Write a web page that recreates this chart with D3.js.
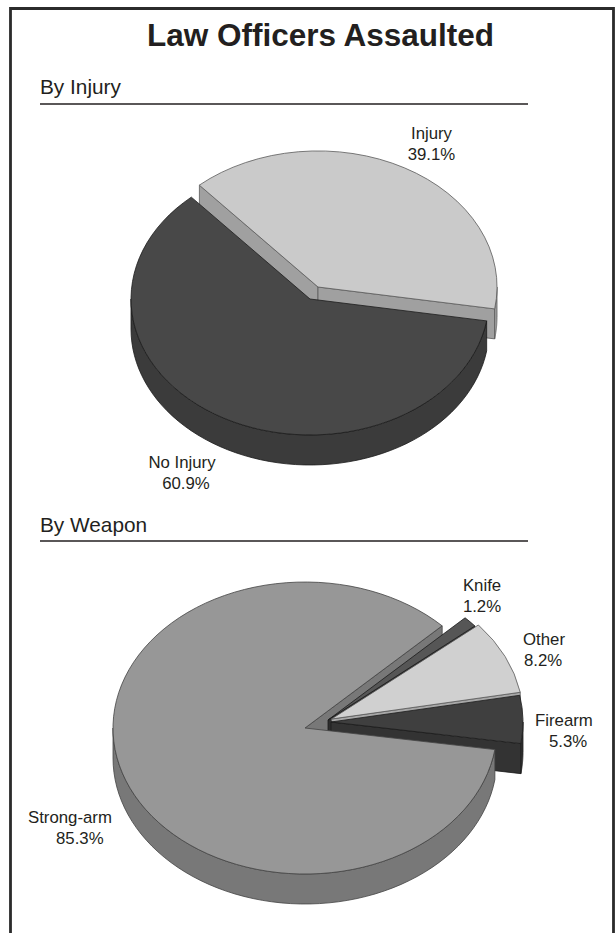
<!DOCTYPE html>
<html>
<head>
<meta charset="utf-8">
<title>Law Officers Assaulted</title>
<script src="https://cdn.jsdelivr.net/npm/d3@7"></script>
<style>
html, body { margin: 0; padding: 0; background: white; }
svg { display: block; }
text { font-family: "Liberation Sans", Arial, sans-serif; fill: #231f20; }
</style>
</head>
<body>
<div id="canvas"></div>
<script>
"use strict"

/* Data */
let chartTitle = "Law Officers Assaulted";
let injuryTitle = "By Injury";
let weaponTitle = "By Weapon";

let injuryNames = ["Injury", "No Injury"];
let injuryValues = [39.1, 60.9];

let weaponNames = ["Knife", "Other", "Firearm", "Strong-arm"];
let weaponValues = [1.2, 8.2, 5.3, 85.3];

/* Configuration variables: drawing */
let svgWidth = 616;
let svgHeight = 933;
let depth = 30;

let injuryLayout = {
    cx: 310, cy: 299, rx: 179, ry: 136, start: -41.5,
    offsets: [[8, -12], [0, 0]],
    tops: ["#cacaca", "#484848"],
    sides: ["#a0a0a0", "#3b3b3b"],
    strokes: ["#5a5a5a", "#1c1c1c"],
    labels: [
        {x: 431.5, y: 139, x2: 431.5, y2: 160, anchor: "middle"},
        {x: 182, y: 468, x2: 186, y2: 489, anchor: "middle"}
    ]
};

let weaponLayout = {
    cx: 305, cy: 728, rx: 192, ry: 146, start: 45.6,
    offsets: [[23, -8], [26.5, -9], [26, -6], [0, 0]],
    tops: ["#565656", "#d0d0d0", "#3f3f3f", "#979797"],
    sides: ["#2e2e2e", "#a8a8a8", "#333333", "#787878"],
    strokes: ["#1c1c1c", "#5a5a5a", "#1c1c1c", "#444444"],
    labels: [
        {x: 482, y: 591, x2: 482, y2: 612, anchor: "middle"},
        {x: 523, y: 645, x2: 524, y2: 666, anchor: "start"},
        {x: 535, y: 726, x2: 549, y2: 747, anchor: "start"},
        {x: 28, y: 823, x2: 56, y2: 844, anchor: "start"}
    ]
};

/* Create drawing canvas */
let svg = d3.select("#canvas")
    .append("svg")
    .attr("width", svgWidth)
    .attr("height", svgHeight);

/* Frame: the bottom edge runs off the page */
svg.append("path")
    .attr("d", d3.line()([[10.5, svgHeight], [10.5, 8.5], [613.5, 8.5], [613.5, svgHeight]]))
    .attr("fill", "none")
    .attr("stroke", "#2b2b2b")
    .attr("stroke-width", 2.8);

svg.append("text")
    .attr("x", 320.5)
    .attr("y", 46)
    .attr("text-anchor", "middle")
    .attr("font-size", 31.5)
    .attr("font-weight", "bold")
    .text(chartTitle);

function drawHeading(label, baseline, ruleY) {
    svg.append("text")
        .attr("x", 40)
        .attr("y", baseline)
        .attr("font-size", 20.8)
        .text(label);
    svg.append("line")
        .attr("x1", 40)
        .attr("x2", 528)
        .attr("y1", ruleY)
        .attr("y2", ruleY)
        .attr("stroke", "#231f20")
        .attr("stroke-width", 1.5);
}

drawHeading(injuryTitle, 94, 104);
drawHeading(weaponTitle, 532, 541);

/* One tilted pie: d3.pie gives the angles, d3.arc draws the top faces */
function drawPie(names, values, layout) {
    let startAngle = layout.start * Math.PI / 180;
    let slices = d3.pie().sort(null)
        .startAngle(startAngle)
        .endAngle(startAngle + 2 * Math.PI)(values);

    let arc = d3.arc().innerRadius(0).outerRadius(1);
    let g = svg.append("g");

    // angle is clockwise from the top, same as d3.arc
    function rim(angle) {
        return [layout.rx * Math.sin(angle), -layout.ry * Math.cos(angle)];
    }

    function faceStyle(sel, i, fill) {
        return sel.attr("fill", fill)
            .attr("stroke", layout.strokes[i])
            .attr("stroke-width", 0.8)
            .attr("stroke-linejoin", "round");
    }

    function moved(i) {
        return "translate(" + (layout.cx + layout.offsets[i][0]) + "," + (layout.cy + layout.offsets[i][1]) + ")";
    }

    // cut faces hanging under the radial edges, only the ones facing the viewer
    function radialWalls(d, i) {
        [d.startAngle, d.endAngle].forEach(function(angle, k) {
            let facing = k === 0 ? Math.sin(angle) < 0 : Math.sin(angle) > 0;
            if (!facing) return;
            let p = rim(angle);
            faceStyle(g.append("path"), i, layout.sides[i])
                .attr("transform", moved(i))
                .attr("d", d3.line()([[0, 0], p, [p[0], p[1] + depth], [0, depth]]) + "Z");
        });
    }

    // curved outer wall, only the front half of the ellipse shows
    function outerWall(d, i) {
        let from = Math.max(d.startAngle, Math.PI / 2);
        let to = Math.min(d.endAngle, 3 * Math.PI / 2);
        if (to <= from) return;
        let steps = d3.range(0, 61).map(function(k) { return from + (to - from) * k / 60; });
        let upper = steps.map(rim);
        let lower = upper.slice().reverse().map(function(p) { return [p[0], p[1] + depth]; });
        faceStyle(g.append("path"), i, layout.sides[i])
            .attr("transform", moved(i))
            .attr("d", d3.line()(upper.concat(lower)) + "Z");
    }

    function topFace(d, i) {
        faceStyle(g.append("path"), i, layout.tops[i])
            .attr("transform", moved(i) + " scale(" + layout.rx + "," + layout.ry + ")")
            .attr("vector-effect", "non-scaling-stroke")
            .attr("d", arc(d));
    }

    // the slice that stays in place goes last, it covers the walls of the pulled ones
    let base = layout.offsets.findIndex(function(o) { return o[0] === 0 && o[1] === 0; });
    radialWalls(slices[base], base);
    slices.forEach(function(d, i) {
        if (i === base) return;
        radialWalls(d, i);
        outerWall(d, i);
        topFace(d, i);
    });
    outerWall(slices[base], base);
    topFace(slices[base], base);

    names.forEach(function(name, i) {
        let label = layout.labels[i];
        svg.append("text")
            .attr("x", label.x)
            .attr("y", label.y)
            .attr("text-anchor", label.anchor)
            .attr("font-size", 16.8)
            .text(name);
        svg.append("text")
            .attr("x", label.x2)
            .attr("y", label.y2)
            .attr("text-anchor", label.anchor)
            .attr("font-size", 16.8)
            .text(values[i].toFixed(1) + "%");
    });
}

drawPie(injuryNames, injuryValues, injuryLayout);
drawPie(weaponNames, weaponValues, weaponLayout);
</script>
</body>
</html>
